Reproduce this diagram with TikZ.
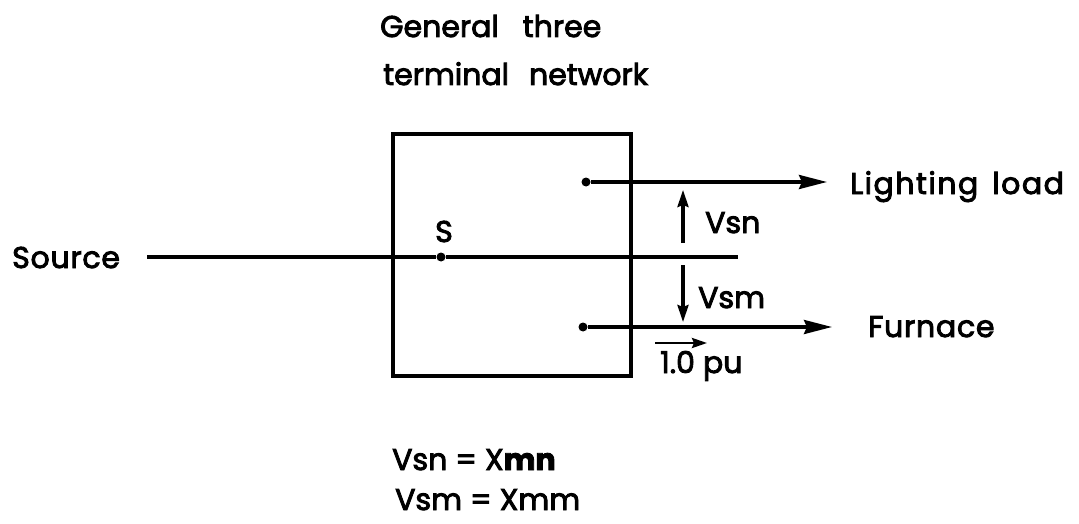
\documentclass[tikz,border=0pt]{standalone}
\usepackage{fontspec}
\setmainfont{Poppins}[RawFeature={embolden=3}]
\newfontfamily\spacedfont{Poppins}[RawFeature={embolden=3},LetterSpace=5]
\newfontfamily\lightspaced{Poppins}[RawFeature={embolden=3},LetterSpace=2.5]
\usetikzlibrary{arrows.meta}
\tikzset{
  wire/.style={line width=3.4pt},
  lbl/.style={anchor=base west, inner sep=0pt, font=\fontsize{30}{36}\selectfont},
  bigarrow/.style={line width=3.4pt, -{Stealth[length=28pt,width=14pt,inset=3pt]}},
  smallarrow/.style={line width=3.2pt, -{Stealth[length=17pt,width=11pt,inset=2pt]}},
  dotnode/.style={circle, fill=black, inner sep=0pt, minimum size=9pt},
}
\begin{document}
\begin{tikzpicture}[x=1pt,y=-1pt]
\useasboundingbox (0,0) rectangle (1079,524);
% title
\node[lbl] (t1) at (380,37) {General\hspace{24pt}three};
\node[lbl] (t2) at (383,85) {terminal\hspace{20pt}network};
% box
\draw[wire] (393,134) rectangle (631,376);
% source line
\node[lbl] (src) at (12,268) {\lightspaced Source};
\coordinate (srcA) at (147,257);
\coordinate (srcB) at (738,257);
\node[dotnode] (S) at (441,257) {};
\draw[wire] (srcA) -- (S) -- (srcB);
\node[lbl] (Slbl) at (435,242) {S};
% outputs
\node[dotnode] (n) at (586,182) {};
\node[dotnode] (m) at (583,327) {};
\coordinate (nEnd) at (827,182);
\coordinate (mEnd) at (832,327);
\draw[bigarrow] (n) -- (nEnd);
\draw[bigarrow] (m) -- (mEnd);
\node[lbl] (light) at (850,194) {\spacedfont Lighting\hspace{14pt}load};
\node[lbl] (furn) at (868,337) {\lightspaced Furnace};
% voltage arrows
\coordinate (vsnA) at (683,243);
\coordinate (vsnB) at (683,190);
\coordinate (vsmA) at (683,265);
\coordinate (vsmB) at (683,322);
\draw[smallarrow] (vsnA) -- (vsnB);
\draw[smallarrow] (vsmA) -- (vsmB);
\node[lbl] (vsn) at (705,233) {Vsn};
\node[lbl] (vsm) at (698,308) {Vsm};
% current arrow
\coordinate (puA) at (655,343);
\coordinate (puB) at (707,343);
\draw[line width=2.6pt, -{Stealth[length=15pt,width=10pt,inset=2pt]}] (puA) -- (puB);
\node[lbl] (pu) at (660,373) {1.0 pu};
% equations
\node[lbl] (eq1) at (392,470) {Vsn = X\textbf{mn}};
\node[lbl] (eq2) at (395,510) {Vsm = Xmm};
\end{tikzpicture}
\end{document}
